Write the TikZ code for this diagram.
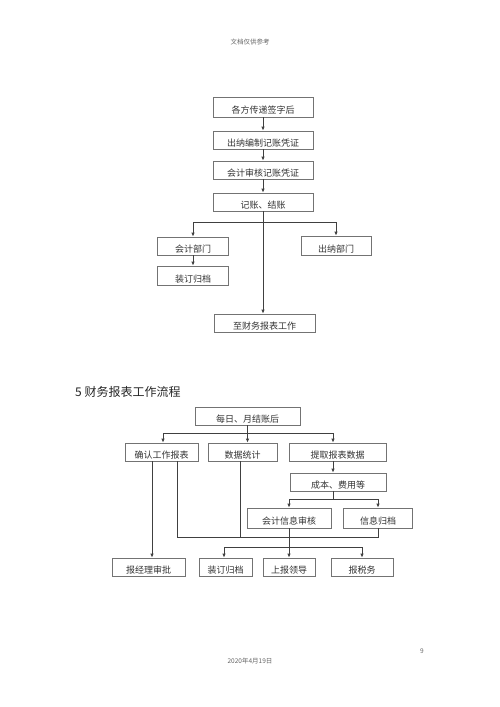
\documentclass[tikz,border=0pt]{standalone}
\usepackage{fontspec}
\setmainfont{Noto Sans CJK SC}
\usetikzlibrary{arrows.meta}
\begin{document}
\begin{tikzpicture}[x=1pt,y=-1pt,
  fbox/.style={draw=black!55, line width=0.8pt, rectangle, inner sep=0pt,
    text height=13pt, text depth=0pt, font=\fontsize{9}{9}\selectfont, text=black!80},
  conn/.style={draw=black!75, line width=0.8pt},
  arr/.style={conn, -{Latex[length=4pt,width=3.5pt]}},
  small/.style={font=\fontsize{6.5}{6.5}\selectfont, text=black!60}]
\fill[white] (0,0) rectangle (500,707);
\useasboundingbox (0,0) rectangle (500,707);

% header / footer
\node[small] (hd) at (250,42) {文档仅供参考};
\node[small] (ft) at (250,661) {2020年4月19日};
\node[small] (pg) at (422,651) {9};

% ---------- chart 1 ----------
\node[fbox, minimum width=100, minimum height=20] (n1) at (263,107) {各方传递签字后};
\node[fbox, minimum width=100, minimum height=18] (n2) at (263,140) {出纳编制记账凭证};
\node[fbox, minimum width=100, minimum height=18] (n3) at (263,170) {会计审核记账凭证};
\node[fbox, minimum width=100, minimum height=18] (n4) at (263,202) {记账、结账};
\node[fbox, minimum width=71, minimum height=18] (nL1) at (193,246) {会计部门};
\node[fbox, minimum width=70, minimum height=19] (nR) at (336,245.5) {出纳部门};
\node[fbox, minimum width=71, minimum height=19] (nL2) at (193,275.5) {装订归档};
\node[fbox, minimum width=101, minimum height=18] (n5) at (264.5,323) {至财务报表工作};

\draw[arr] (n1.south) -- (n2.north);
\draw[arr] (n2.south) -- (n3.north);
\draw[arr] (n3.south) -- (n4.north);
\coordinate (j1) at (263,222);
\draw[conn] (n4.south) -- (j1);
\draw[arr] (j1) -| (nL1.north);
\draw[arr] (j1) -| (nR.north);
\draw[arr] (j1) -- (j1 |- n5.north);
\draw[arr] (nL1.south) -- (nL2.north);

% ---------- chart 2 ----------
\node[anchor=west, font=\fontsize{12}{12}\selectfont, text=black!85, inner sep=0pt] (h) at (75,392) {5 财务报表工作流程};

\node[fbox, minimum width=105, minimum height=18] (m0) at (247.5,416) {每日、月结账后};
\node[fbox, minimum width=73, minimum height=18] (A) at (161.5,452) {确认工作报表};
\node[fbox, minimum width=69, minimum height=18] (B) at (242.5,452) {数据统计};
\node[fbox, minimum width=97, minimum height=18] (C) at (337.5,452) {提取报表数据};
\node[fbox, minimum width=96, minimum height=18] (D) at (338,482) {成本、费用等};
\node[fbox, minimum width=84, minimum height=20] (E) at (289,518) {会计信息审核};
\node[fbox, minimum width=69, minimum height=20] (F) at (378,518) {信息归档};
\node[fbox, minimum width=73, minimum height=18] (b1) at (148.5,567) {报经理审批};
\node[fbox, minimum width=53, minimum height=18] (b2) at (225.5,567) {装订归档};
\node[fbox, minimum width=52, minimum height=18] (b3) at (289,567) {上报领导};
\node[fbox, minimum width=62, minimum height=18] (b4) at (362,567) {报税务};

\coordinate (j2) at (247.5,433);
\coordinate (j2l) at (163,433);
\coordinate (j2r) at (333,433);
\draw[conn] (m0.south) -- (j2);
\draw[conn] (j2l) -- (j2r);
\draw[arr] (j2l) -- (j2l |- A.north);
\draw[arr] (j2) -- (j2 |- B.north);
\draw[arr] (j2r) -- (j2r |- C.north);
\draw[arr] (C.south -| j2r) -- (j2r |- D.north);

\coordinate (j3) at (333,499);
\coordinate (j3l) at (289,499);
\coordinate (j3r) at (378,499);
\draw[conn] (D.south -| j3) -- (j3);
\draw[conn] (j3l) -- (j3r);
\draw[arr] (j3l) -- (E.north);
\draw[arr] (j3r) -- (F.north);

\coordinate (k1) at (152,558);
\draw[arr] (A.south -| k1) -- (k1 |- b1.north);
\coordinate (j4l) at (177,537);
\coordinate (j4b) at (240,537);
\coordinate (j4r) at (378,537);
\draw[conn] (A.south -| j4l) -- (j4l) -- (j4r) -- (F.south);
\draw[conn] (B.south -| j4b) -- (j4b);

\coordinate (j5) at (289,547);
\coordinate (j5l) at (224,547);
\coordinate (j5r) at (362,547);
\draw[conn] (E.south) -- (j5);
\draw[conn] (j5l) -- (j5r);
\draw[arr] (j5l) -- (j5l |- b2.north);
\draw[arr] (j5) -- (b3.north);
\draw[arr] (j5r) -- (b4.north);
\end{tikzpicture}
\end{document}
